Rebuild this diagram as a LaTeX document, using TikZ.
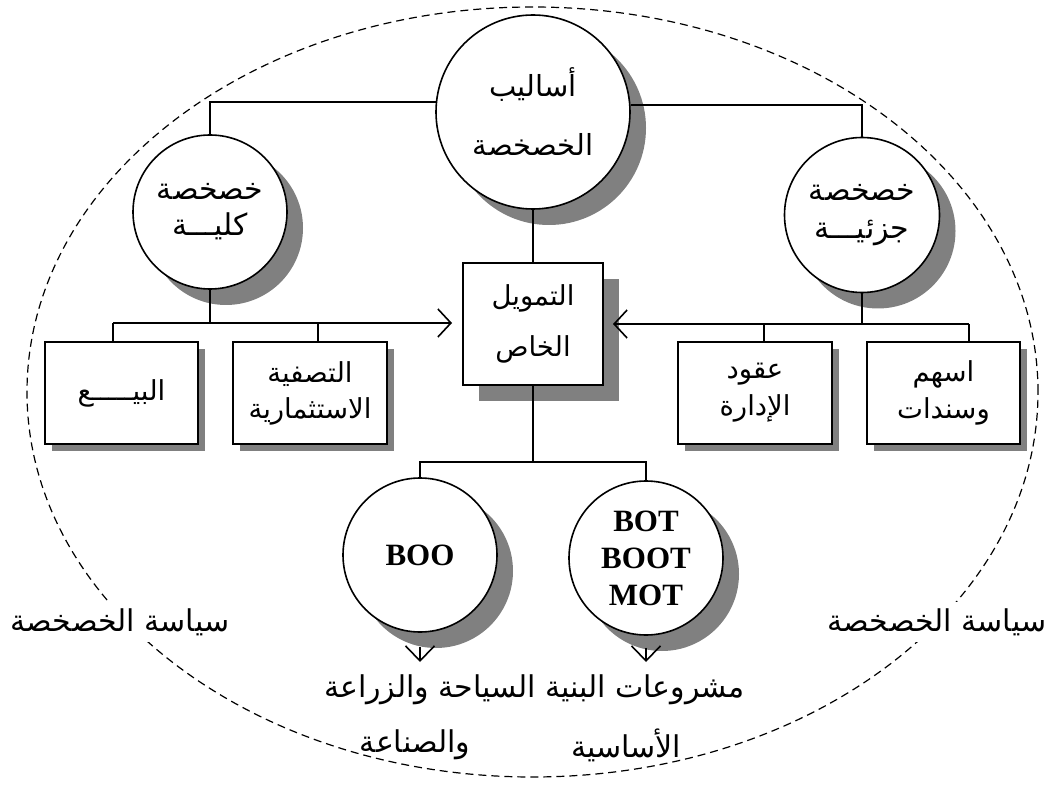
\documentclass[tikz,border=0pt]{standalone}
\usepackage{fontspec}
\setmainfont{Liberation Serif}
\newfontfamily\arabicfont[Script=Arabic]{DejaVu Sans}
\TeXXeTstate=1
\usetikzlibrary{arrows.meta,shadows}
% one right-to-left line of Arabic text
\newcommand\artx[1]{{\arabicfont\beginR #1\endR}}

\begin{document}
\begin{tikzpicture}[x=1pt,y=-1pt,
  conn/.style={line width=1.6pt},
  arr/.style={conn,-{Straight Barb[length=13pt,width=28pt]}},
  darr/.style={conn,-{Straight Barb[length=15pt,width=29pt]}},
  bigshadow/.style={drop shadow={shadow xshift=16pt,shadow yshift=-16pt,fill=black!50,opacity=1}},
  smallshadow/.style={drop shadow={shadow xshift=7pt,shadow yshift=-7pt,fill=black!50,opacity=1}},
  bubble/.style={circle,draw,line width=1.6pt,fill=white,inner sep=0pt,align=center,
    font=\fontsize{30}{36}\selectfont},
  card/.style={rectangle,draw,line width=1.6pt,fill=white,inner sep=0pt,align=center,
    font=\fontsize{27.5}{33}\selectfont},
  latin/.style={font=\fontsize{31}{37}\selectfont\bfseries},
  caption/.style={font=\fontsize{30}{36}\selectfont,align=center,inner sep=0pt},
]
\useasboundingbox (0,0) rectangle (1050,786);

% policy frame
\draw[line width=1.2pt,dash pattern=on 8pt off 5pt] (532.5,392) ellipse [x radius=505.5pt,y radius=385pt];

% hierarchy
\node[bubble,bigshadow,minimum size=194pt,font=\fontsize{29}{35}\selectfont] (top) at (533,112)
  {\artx{أساليب}\\[24pt]\artx{الخصخصة}};
\node[bubble,bigshadow,minimum size=154pt] (kul) at (210,212)
  {\artx{خصخصة}\\[0pt]\artx{كليـــة}};
\node[bubble,bigshadow,minimum size=155pt] (juz) at (862,215)
  {\artx{خصخصة}\\[2pt]\artx{جزئيـــة}};
\node[card,bigshadow,minimum width=140pt,minimum height=122pt] (fin) at (533,324)
  {\artx{التمويل}\\[18pt]\artx{الخاص}};

\node[card,smallshadow,minimum width=153pt,minimum height=102pt] (bay) at (121.5,393)
  {\artx{البيـــــع}};
\node[card,smallshadow,minimum width=154pt,minimum height=102pt] (tas) at (310,393)
  {\artx{التصفية}\\[3pt]\artx{الاستثمارية}};
\node[card,smallshadow,minimum width=154pt,minimum height=102pt] (idara) at (755,393)
  {\artx{عقود}\\[4pt]\artx{الإدارة}};
\node[card,smallshadow,minimum width=153pt,minimum height=102pt] (ashum) at (943.5,393)
  {\artx{اسهم}\\[4pt]\artx{وسندات}};

\node[bubble,bigshadow,latin,minimum size=154pt] (boo) at (420,555) {BOO};
\node[bubble,bigshadow,latin,minimum size=154pt] (bot) at (646,558) {BOT\\BOOT\\MOT};

% captions
\node[caption] (boocap) at (430,690) {\artx{السياحة والزراعة}};
\node[caption] (boocapb) at (415,745) {\artx{والصناعة}};
\node[caption] (botcap) at (645,690) {\artx{مشروعات البنية}};
\node[caption] (botcapb) at (626,745) {\artx{الأساسية}};
\node[caption,fill=white,inner sep=6pt] (polL) at (120,622) {\artx{سياسة الخصخصة}};
\node[caption,fill=white,inner sep=6pt] (polR) at (937,622) {\artx{سياسة الخصخصة}};

% connectors
\draw[conn] (top.174) -| (kul.north);
\draw[conn] (top.4) -| (juz.north);
\draw[conn] (top.south) -- (fin.north);

\coordinate (lbus) at (113,323);
\coordinate (ldrop) at (318,323);
\coordinate (ltip) at (452,323);
\draw[conn] (kul.south) -- (kul.south |- lbus);
\draw[arr] (lbus) -- (ltip);
\draw[conn] (lbus) -- (lbus |- bay.north);
\draw[conn] (ldrop) -- (ldrop |- tas.north);

\coordinate (rbus) at (969,324);
\coordinate (rdrop) at (764,324);
\coordinate (rtip) at (613,324);
\draw[conn] (juz.south) -- (juz.south |- rbus);
\draw[arr] (rbus) -- (rtip);
\draw[conn] (rbus) -- (rbus |- ashum.north);
\draw[conn] (rdrop) -- (rdrop |- idara.north);

\coordinate (bbus) at (534,462);
\draw[conn] (fin.south) -- (fin.south |- bbus);
\draw[conn] (boo.north) -- (boo.north |- bbus) -- (bot.north |- bbus) -- (bot.north);

\coordinate (tipy) at (0,662);
\draw[darr] ([yshift=-14pt]boo.south) -- (boo.south |- tipy);
\draw[darr] ([yshift=-12pt]bot.south) -- (bot.south |- tipy);
\end{tikzpicture}
\end{document}
